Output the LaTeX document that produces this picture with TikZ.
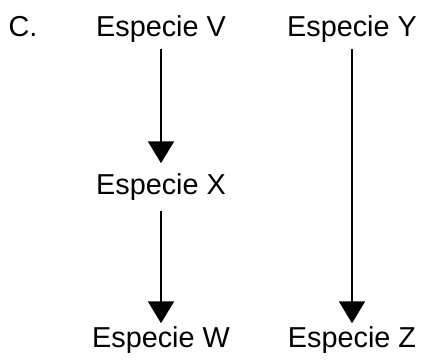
\documentclass[tikz,border=0pt]{standalone}
\usepackage{fontspec}
\setmainfont{Liberation Sans}
\usepackage{tikz}
\usetikzlibrary{arrows.meta,positioning}
\tikzstyle{arrow} = [line width=1.15pt,-{Triangle[length=12.5pt,width=14.8pt]},color=black]
\tikzstyle{species} = [inner sep=0pt, anchor=base, font=\fontsize{16.4}{19}\selectfont]

\begin{document}
\begin{tikzpicture}[x=0.02cm, y=0.02cm]
\useasboundingbox (0,0) rectangle (423,-361);
% Label
\node (lab) [species] at (23,-37) {C.};

% Species
\node (spv) [species] at (161,-37) {Especie V};
\node (spy) [species] at (352,-37) {Especie Y};
\node (spx) [species] at (161,-195) {Especie X};
\node (spw) [species] at (161,-348) {Especie W};
\node (spz) [species] at (352,-348) {Especie Z};

% Connections
\draw[arrow, shorten <=3.5pt, shorten >=6pt] (spv.south) -- (spx.north);
\draw[arrow, shorten <=5.5pt, shorten >=2pt] (spx.south) -- (spw.north);
\draw[arrow, shorten <=3.5pt, shorten >=2pt] (spy.south) -- (spz.north);
\end{tikzpicture}
\end{document}
